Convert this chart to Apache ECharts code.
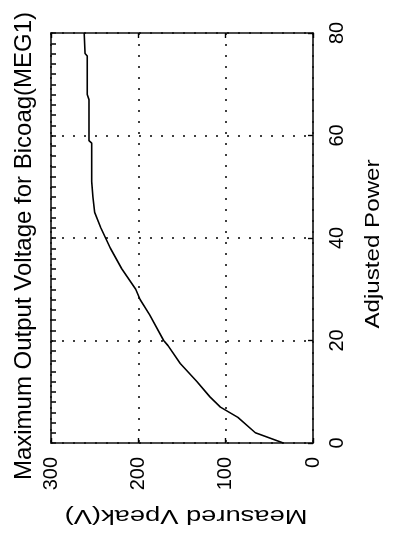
<!DOCTYPE html>
<html>
<head>
<meta charset="utf-8">
<script src="https://cdn.jsdelivr.net/npm/echarts@6/dist/echarts.min.js"></script>
<style>html,body{margin:0;padding:0;background:#fff;}#c{width:393px;height:540px;}</style>
</head>
<body>
<div id="c"></div>
<script>
// Data (Adjusted Power -> Measured Vpeak)
const power = [0, 2, 5, 7, 9, 12, 15.5, 19, 20, 25, 28, 30, 34, 38, 42, 45, 48, 51, 58.5, 59, 67, 68, 75.5, 76, 80];
const vpeak = [34, 66, 86, 106, 118, 133, 152, 166, 171, 187, 198, 203, 219, 232, 243, 250, 252, 253.4, 253.4, 256.5, 256.5, 258.5, 258.5, 261, 262];
const powerTicks = [0, 20, 40, 60, 80];
const vpeakTicks = [0, 100, 200, 300];
const titleText = 'Maximum Output Voltage for Bicoag(MEG1)';
const xName = 'Adjusted Power';
const yName = 'Measured Vpeak(V)';

const FONT = 'Liberation Sans, Arial, Helvetica, sans-serif';
const chart = echarts.init(document.getElementById('c'), null, {renderer: 'canvas'});
const dotted = {show: true, lineStyle: {color: '#000', type: [2, 9], width: 1.5}};

chart.setOption({
  animation: false,
  grid: {left: 51, right: 80, top: 33, bottom: 97},
  xAxis: [
    {type: 'value', min: 0, max: 300, interval: 100, inverse: true, position: 'bottom',
     axisLine: {show: true, onZero: false, lineStyle: {color: '#111', width: 1.6}},
     axisTick: {show: true, inside: true, length: 5, lineStyle: {color: '#000', width: 1.4}},
     axisLabel: {rotate: 90, fontSize: 20, color: '#000', fontFamily: FONT, margin: 14},
     splitLine: dotted},
    {type: 'value', min: 0, max: 300, interval: 100, inverse: true, position: 'top',
     axisLine: {show: true, onZero: false, lineStyle: {color: '#111', width: 1.6}},
     axisTick: {show: true, inside: true, length: 5, lineStyle: {color: '#000', width: 1.4}},
     axisLabel: {show: false}, splitLine: {show: false}}
  ],
  yAxis: [
    {type: 'value', min: 0, max: 80, interval: 20, position: 'right',
     axisLine: {show: true, onZero: false, lineStyle: {color: '#111', width: 1.6}},
     axisTick: {show: true, inside: true, length: 5, lineStyle: {color: '#000', width: 1.4}},
     axisLabel: {rotate: 90, fontSize: 20, color: '#000', fontFamily: FONT, margin: 14},
     splitLine: dotted},
    {type: 'value', min: 0, max: 80, interval: 2, position: 'left',
     axisLine: {show: true, onZero: false, lineStyle: {color: '#111', width: 1.6}},
     axisTick: {show: true, inside: true, length: 5, lineStyle: {color: '#111', width: 1.6}},
     axisLabel: {show: false}, splitLine: {show: false}}
  ],
  series: [{
    type: 'line', symbol: 'none',
    lineStyle: {color: '#000', width: 1.6},
    data: power.map((p, i) => [vpeak[i], p])
  }],
  graphic: [
    {type: 'text', x: 24, y: 246, rotation: Math.PI / 2,
     style: {text: titleText, x: 0, y: 0, align: 'center', verticalAlign: 'middle', textAlign: 'center', textVerticalAlign: 'middle',
             font: '24px ' + FONT, fill: '#000'}},
    {type: 'text', x: 373, y: 244, rotation: Math.PI / 2, scaleX: 1.15,
     style: {text: xName, x: 0, y: 0, align: 'center', verticalAlign: 'middle', textAlign: 'center', textVerticalAlign: 'middle',
             font: '21px ' + FONT, fill: '#000'}},
    {type: 'text', x: 186, y: 516, rotation: Math.PI, scaleX: 1.3,
     style: {text: yName, x: 0, y: 0, align: 'center', verticalAlign: 'middle', textAlign: 'center', textVerticalAlign: 'middle',
             font: '21px ' + FONT, fill: '#000'}}
  ]
});
</script>
</body>
</html>
